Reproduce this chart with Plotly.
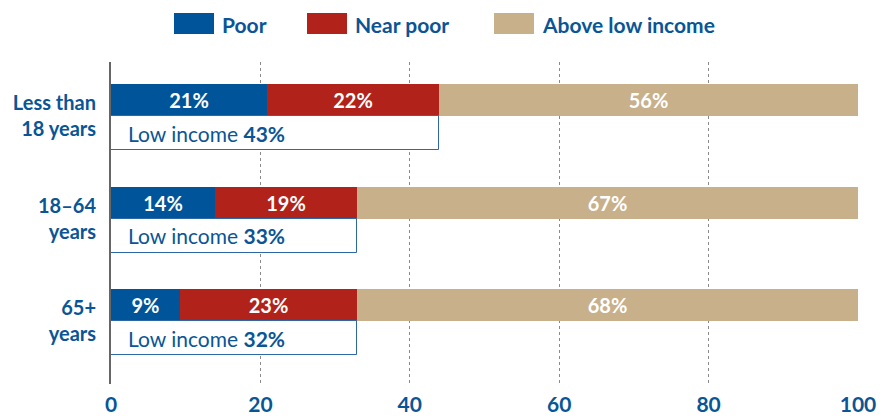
import plotly.graph_objects as go

# ---- data ----
categories = ["Less than<br>18 years", "18–64<br>years", "65+<br>years"]
series_names = ["Poor", "Near poor", "Above low income"]
poor = [20.9, 13.9, 9.2]
near_poor = [23.0, 19.0, 23.7]
above_low = [56.1, 67.1, 67.1]
poor_labels = [21, 14, 9]
near_poor_labels = [22, 19, 23]
above_labels = [56, 67, 68]
low_income_labels = [43, 33, 32]
x_ticks = [0, 20, 40, 60, 80, 100]

# ---- styles ----
BLUE = "#00559A"
RED = "#B1221A"
TAN = "#C8B08A"
TXT = "#0A5596"
FONT = "Lato"

# page body has an 8px margin, so the figure is offset by 8px
OFF = 8
W, H = 891 - OFF, 420 - OFF
L, R, T, B = 111 - OFF, 33, 62 - OFF, 36
PW, PH = W - L - R, H - T - B

pos = list(range(len(categories)))
bar_y = [p - 0.157 for p in pos]
box_y = [p + 0.166 for p in pos]
BAR_W = 0.312
BOX_W = 0.331

base_near = poor[:]
base_above = [a + b for a, b in zip(poor, near_poor)]
low_income = base_above[:]

fig = go.Figure()

def seg(x, base, color, labels, name):
    fig.add_trace(go.Bar(
        x=x, y=bar_y, base=base, orientation="h", width=BAR_W,
        marker=dict(color=color, line=dict(width=0)), name=name,
        text=[f"{v}%" for v in labels], textposition="inside",
        insidetextanchor="middle", textangle=0, constraintext="none",
        insidetextfont=dict(family=FONT, size=20, color="white", weight=700),
        hoverinfo="skip", showlegend=False,
    ))

seg(poor, [0] * 3, BLUE, poor_labels, series_names[0])
seg(near_poor, base_near, RED, near_poor_labels, series_names[1])
seg(above_low, base_above, TAN, above_labels, series_names[2])

# low income boxes
fig.add_trace(go.Bar(
    x=low_income, y=box_y, base=[0] * 3, orientation="h", width=BOX_W,
    marker=dict(color="white", line=dict(color="#2D67A6", width=1)),
    hoverinfo="skip", showlegend=False,
))
for yy, v in zip(box_y, low_income_labels):
    fig.add_annotation(x=0, y=yy, xref="x", yref="y", xanchor="left", yanchor="middle",
                       xshift=15, showarrow=False,
                       text=f"Low income <b>{v}%</b>",
                       font=dict(family=FONT, size=21, color=TXT))

# manual legend (screen pixel -> paper)
def px(xp):
    return (xp - OFF - L) / PW
def py(yp):
    return (H - B - (yp - OFF)) / PH

legend_items = [(174, 220, BLUE), (307, 353, RED), (494, 540, TAN)]
for name, (sx, tx, col) in zip(series_names, legend_items):
    fig.add_shape(type="rect", xref="paper", yref="paper",
                  x0=px(sx), x1=px(sx + 40), y0=py(34), y1=py(13),
                  fillcolor=col, line=dict(width=0))
    fig.add_annotation(x=px(tx), y=py(24), xref="paper", yref="paper",
                       xanchor="left", yanchor="middle", showarrow=False,
                       text=f"<b>{name}</b>",
                       font=dict(family=FONT, size=21, color=TXT))

fig.update_layout(
    width=W, height=H, margin=dict(l=L, r=R, t=T, b=B, pad=0, autoexpand=False),
    paper_bgcolor="white", plot_bgcolor="white",
    barmode="overlay", bargap=0,
    showlegend=False,
    xaxis=dict(range=[0, 100], tickvals=x_ticks, showgrid=True,
               gridcolor="#8A8A8A", griddash="dot", gridwidth=1,
               zeroline=False, showline=False, ticks="",
               ticklabelstandoff=6,
               tickfont=dict(family=FONT, size=21, color=TXT, weight=700)),
    yaxis=dict(range=[2.611, -0.526], tickvals=pos, ticktext=categories,
               showgrid=False, zeroline=False, showline=True,
               linecolor="#666666", linewidth=2, ticks="",
               ticklabelstandoff=9,
               tickfont=dict(family=FONT, size=20, color=TXT, weight=700)),
)

fig.write_html("out.html")
